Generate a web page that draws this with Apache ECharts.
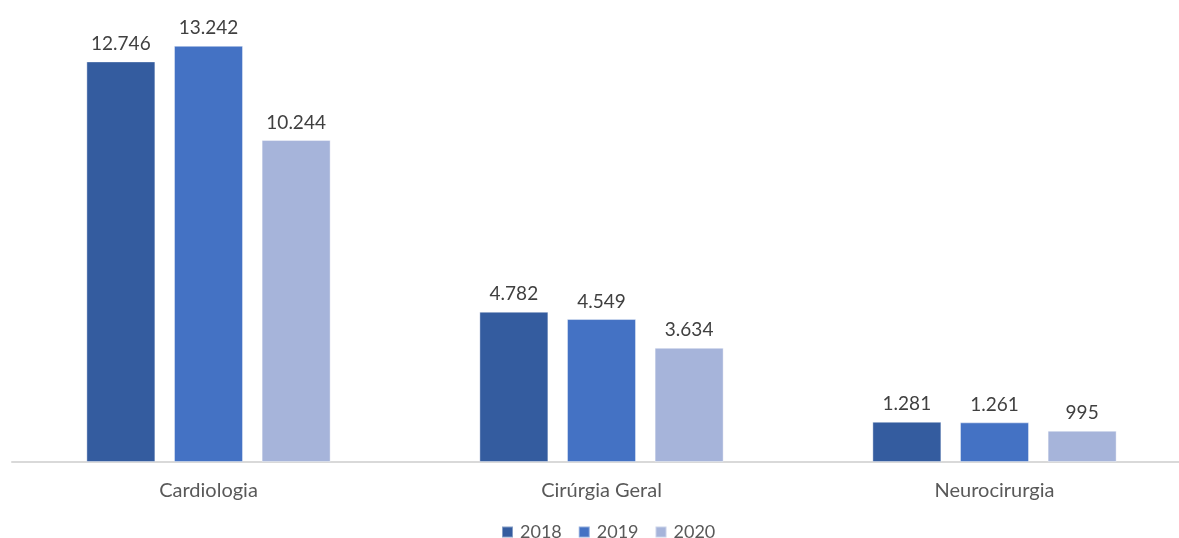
<!DOCTYPE html>
<html>
<head>
<meta charset="utf-8">
<script src="https://cdn.jsdelivr.net/npm/echarts@6/dist/echarts.min.js"></script>
<style>
  html, body { margin: 0; padding: 0; background: #ffffff; overflow: hidden; }
  #chart { width: 1191px; height: 538px; }
</style>
</head>
<body>
<div id="chart"></div>
<script>
// Procedures per specialty and year
const categories = ['Cardiologia', 'Cirúrgia Geral', 'Neurocirurgia'];
const years = ['2018', '2019', '2020'];
const values2018 = [12746, 4782, 1281];
const values2019 = [13242, 4549, 1261];
const values2020 = [10244, 3634, 995];
const colors = ['#345c9f', '#4472c4', '#a6b4da'];

// Thousands separator as a dot (pt-BR style)
function fmt(v) {
  return String(v).replace(/\B(?=(\d{3})+(?!\d))/g, '.');
}

const FONT = 'Lato';
const seriesValues = [values2018, values2019, values2020];

const chart = echarts.init(document.getElementById('chart'), null, { renderer: 'canvas' });
chart.setOption({
  animation: false,
  backgroundColor: '#ffffff',
  grid: { left: 12, right: 0, top: 22, bottom: 76, containLabel: false },
  legend: {
    data: years,
    left: 496,
    top: 518,
    icon: 'rect',
    itemWidth: 11,
    itemHeight: 11,
    itemGap: 16,
    textStyle: { fontFamily: FONT, fontSize: 18, color: '#595959', padding: [0, 0, 0, 2] }
  },
  xAxis: {
    type: 'category',
    data: categories,
    axisLine: { show: true, lineStyle: { color: '#d9d9d9', width: 2 } },
    axisTick: { show: false },
    axisLabel: { fontFamily: FONT, fontSize: 20, color: '#595959', margin: 19 }
  },
  yAxis: {
    type: 'value',
    min: 0,
    max: 14000,
    show: false,
    splitLine: { show: false }
  },
  series: years.map((y, i) => ({
    name: y,
    type: 'bar',
    data: seriesValues[i],
    barWidth: 69,
    barGap: '27%',
    itemStyle: { color: colors[i], borderColor: 'rgba(255,255,255,0.4)', borderWidth: 1 },
    label: {
      show: true,
      position: 'top',
      distance: 8,
      fontFamily: FONT,
      fontSize: 19,
      color: '#404040',
      formatter: p => fmt(p.value)
    }
  }))
});
</script>
</body>
</html>
